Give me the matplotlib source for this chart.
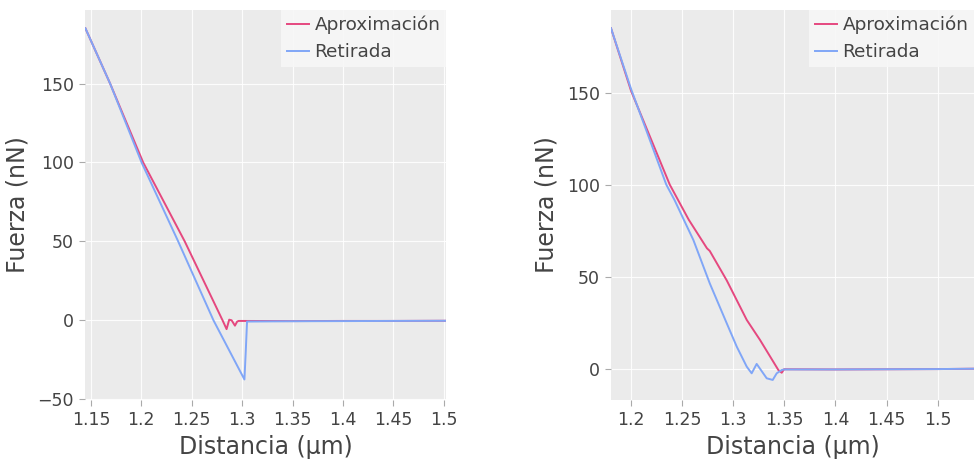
import matplotlib
matplotlib.use("Agg")
import matplotlib.pyplot as plt

# Force-distance curves (approach / retract) for two indentation runs
left_approach_x = [1.1445, 1.169, 1.2018, 1.243, 1.2805, 1.2845, 1.2871, 1.2895, 1.2928, 1.295, 1.2965,
                   1.35, 1.40, 1.45, 1.502]
left_approach_y = [185, 150, 100, 50, 0, -5.6, 0.4, 0, -3.4, -0.8, -0.4,
                   -0.5, -0.4, -0.4, -0.3]
left_retract_x = [1.1445, 1.169, 1.2002, 1.2365, 1.2715, 1.3022, 1.3035, 1.3048,
                  1.35, 1.40, 1.45, 1.502]
left_retract_y = [185, 150, 100, 50, 0, -37.5, -20, -0.8,
                  -0.6, -0.5, -0.4, -0.3]

right_approach_x = [1.1804, 1.2, 1.2379, 1.2564, 1.2743, 1.277, 1.2936, 1.3132, 1.3262, 1.3441,
                    1.3474, 1.3497, 1.40, 1.45, 1.50, 1.536]
right_approach_y = [185, 151, 100, 81, 65.4, 64, 48, 26.5, 15.6, -0.7,
                    -2.2, -0.3, -0.4, -0.3, -0.2, 0]
right_retract_x = [1.1804, 1.2, 1.2345, 1.2425, 1.261, 1.277, 1.2936, 1.3034, 1.3132, 1.318,
                   1.3229, 1.3327, 1.3386, 1.3425, 1.3474, 1.35, 1.40, 1.45, 1.50, 1.536]
right_retract_y = [185, 152, 100, 91.7, 69.9, 46.4, 24.7, 12, 1.1, -2.5,
                   2.6, -5.2, -6.1, -2.5, -0.7, -0.4, -0.4, -0.3, -0.2, 0]

left_xticks = [1.15, 1.2, 1.25, 1.3, 1.35, 1.4, 1.45, 1.5]
left_yticks = [-50, 0, 50, 100, 150]
right_xticks = [1.2, 1.25, 1.3, 1.35, 1.4, 1.45, 1.5]
right_yticks = [0, 50, 100, 150]

series_names = ["Aproximación", "Retirada"]
approach_color = "#E5487F"
retract_color = "#80A6F7"
text_color = "#444444"

plt.rcParams["font.family"] = ["DejaVu Sans"]

fig = plt.figure(figsize=(9.74, 4.61), dpi=100)
W, H = 974, 461


def make_axes(x0, x1, y0, y1):
    return fig.add_axes([x0 / W, 1 - y1 / H, (x1 - x0) / W, (y1 - y0) / H])


def tick_label(v):
    s = f"{v:g}"
    return s.replace("-", "\u2212")


def style(ax, xlim, ylim, xticks, yticks):
    ax.set_facecolor("#EBEBEB")
    for sp in ax.spines.values():
        sp.set_visible(False)
    ax.set_xlim(*xlim)
    ax.set_ylim(*ylim)
    ax.set_xticks(xticks)
    ax.set_xticklabels([tick_label(v) for v in xticks])
    ax.set_yticks(yticks)
    ax.set_yticklabels([tick_label(v) for v in yticks])
    ax.grid(True, color="white", linewidth=0.8, alpha=0.9)
    ax.set_axisbelow(True)
    ax.tick_params(direction="out", length=4, width=0.8, color="#AAAAAA",
                   labelsize=12.5, labelcolor=text_color, pad=4)
    ax.set_xlabel("Distancia (\u03bcm)", fontsize=17, color=text_color, labelpad=4)
    ax.set_ylabel("Fuerza (nN)", fontsize=17, color=text_color, labelpad=6)


def draw(ax, ax_x, ax_y, rt_x, rt_y):
    ax.plot(ax_x, ax_y, color=approach_color, lw=1.4, label=series_names[0], zorder=3)
    ax.plot(rt_x, rt_y, color=retract_color, lw=1.4, label=series_names[1], zorder=3)
    leg = ax.legend(loc="upper right", fontsize=13.3, frameon=True, fancybox=False,
                    borderaxespad=0, handlelength=1.2, handletextpad=0.3,
                    labelspacing=0.5, borderpad=0.3, labelcolor=text_color)
    leg.get_frame().set_facecolor("#F7F7F7")
    leg.get_frame().set_edgecolor("none")
    leg.get_frame().set_alpha(0.9)


ax1 = make_axes(85, 446, 10, 400)
draw(ax1, left_approach_x, left_approach_y, left_retract_x, left_retract_y)
style(ax1, (1.1441, 1.5021), (-50.5, 196.6), left_xticks, left_yticks)

ax2 = make_axes(611, 974, 10, 400)
draw(ax2, right_approach_x, right_approach_y, right_retract_x, right_retract_y)
style(ax2, (1.1804, 1.5355), (-17.0, 194.9), right_xticks, right_yticks)

fig.savefig("out.png", dpi=100, facecolor="white")
